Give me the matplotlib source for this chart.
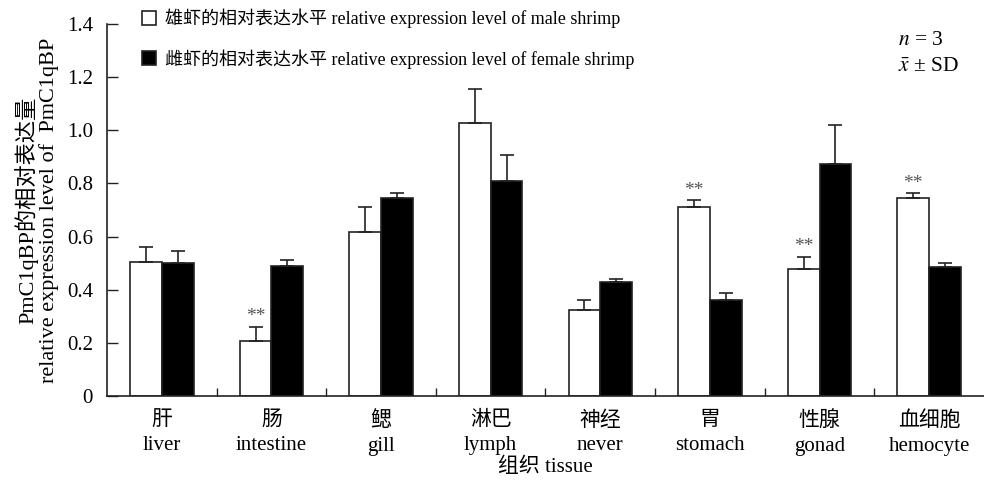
import matplotlib
matplotlib.use('Agg')
import matplotlib.pyplot as plt
import numpy as np

plt.rcParams['font.family'] = ['Liberation Serif', 'Noto Sans CJK SC']
plt.rcParams['mathtext.fontset'] = 'stix'

# tissue names (Chinese / English)
TISSUES_CN = ['肝', '肠', '鳃', '淋巴', '神经', '胃', '性腺', '血细胞']
TISSUES_EN = ['liver', 'intestine', 'gill', 'lymph', 'never', 'stomach', 'gonad', 'hemocyte']

# relative expression, mean and SD
male_mean = [0.505, 0.208, 0.618, 1.026, 0.324, 0.711, 0.478, 0.744]
male_sd = [0.055, 0.053, 0.093, 0.129, 0.037, 0.027, 0.046, 0.019]
female_mean = [0.499, 0.490, 0.744, 0.809, 0.428, 0.361, 0.874, 0.487]
female_sd = [0.047, 0.022, 0.019, 0.097, 0.012, 0.025, 0.145, 0.012]

# significance marks on male bars
male_sig = ['', '**', '', '', '', '**', '**', '**']

YTICKS = [0, 0.2, 0.4, 0.6, 0.8, 1.0, 1.2, 1.4]
YTICK_LABELS = ['0', '0.2', '0.4', '0.6', '0.8', '1.0', '1.2', '1.4']

fig = plt.figure(figsize=(9.84, 4.84), dpi=100)
ax = fig.add_axes([0.1087, 0.1818, 0.8913, 0.7686])

x = np.arange(len(TISSUES_EN))
w = 0.29
edge = '#222222'
err_kw = dict(ecolor=edge, elinewidth=1.2, capsize=5, capthick=1.2)

ax.bar(x - w / 2, male_mean, w, color='white', edgecolor=edge, linewidth=1.2,
       yerr=[np.zeros(len(male_sd)), male_sd], error_kw=err_kw,
       label='雄虾的相对表达水平 relative expression level of male shrimp')
ax.bar(x + w / 2, female_mean, w, color='black', edgecolor=edge, linewidth=1.2,
       yerr=[np.zeros(len(female_sd)), female_sd], error_kw=err_kw,
       label='雌虾的相对表达水平 relative expression level of female shrimp')

for i, s in enumerate(male_sig):
    if s:
        ax.text(x[i] - w / 2, male_mean[i] + male_sd[i] + 0.005, s, ha='center', va='bottom',
                fontsize=14, color='#555555')

ax.set_xlim(-0.5, len(x) - 0.5)
ax.set_ylim(0, 1.4)
ax.set_yticks(YTICKS)
ax.set_yticklabels(YTICK_LABELS, fontsize=15)
ax.tick_params(axis='y', direction='in', length=8, width=1, color=edge, pad=10)

ax.set_xticks(x)
ax.set_xticklabels([c + '\n' + e for c, e in zip(TISSUES_CN, TISSUES_EN)], fontsize=15,
                   linespacing=1.4)
ax.tick_params(axis='x', which='major', length=0, pad=11)
ax.set_xticks(np.arange(0.5, len(x) - 0.5, 1), minor=True)
ax.tick_params(axis='x', which='minor', direction='in', length=6, width=1, color=edge)

for side in ['top', 'right']:
    ax.spines[side].set_visible(False)
for side in ['left', 'bottom']:
    ax.spines[side].set_color(edge)
    ax.spines[side].set_linewidth(1.2)

ax.set_xlabel('组织 tissue', fontsize=15, labelpad=1)
ax.set_ylabel('PmC1qBP的相对表达量\nrelative expression level of  PmC1qBP', fontsize=16,
              linespacing=1.0, labelpad=6)

leg = ax.legend(loc='upper left', bbox_to_anchor=(0.137, 0.997), bbox_transform=fig.transFigure,
                frameon=False, fontsize=13, handlelength=0.8, handleheight=0.8,
                handletextpad=0.45, labelspacing=1.15, borderaxespad=0)
for p in leg.get_patches():
    p.set_linewidth(1.2)

fig.text(0.913, 0.917, '$n$ = 3', fontsize=15.5, ha='left', va='center')
fig.text(0.913, 0.862, r'$\bar{x}$ ± SD', fontsize=15.5, ha='left', va='center')

fig.savefig('out.png', dpi=100)
